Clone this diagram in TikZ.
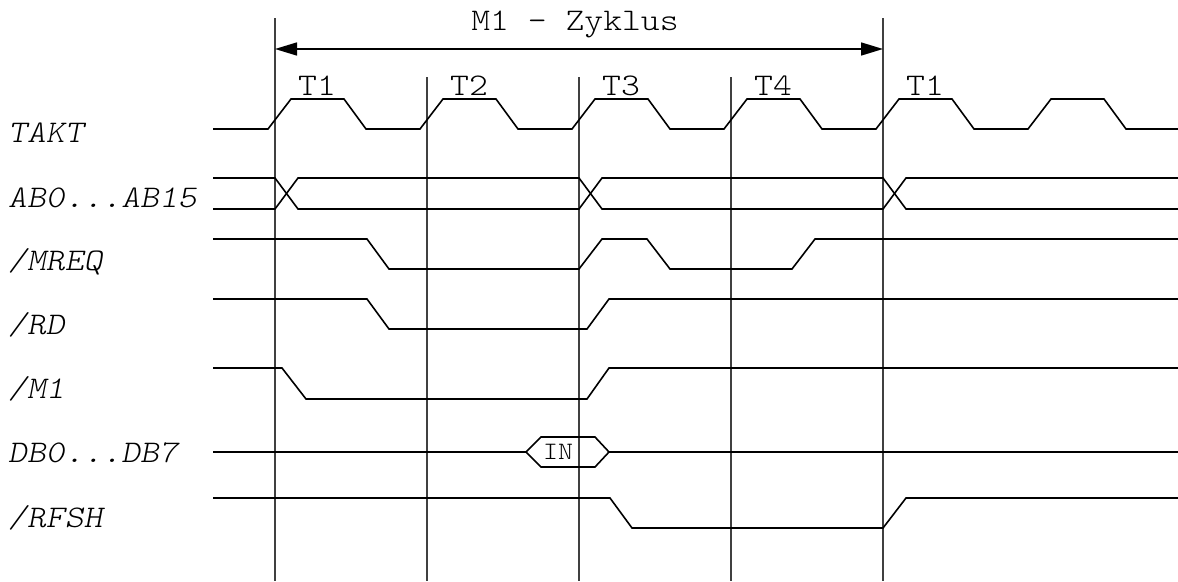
\documentclass[tikz,border=0pt]{standalone}
\usepackage{fontspec}
\usetikzlibrary{arrows.meta}
\newfontfamily\lblfont[Extension=.otf, UprightFont=lmmonolt10-regular, ItalicFont=lmmonolt10-oblique, FakeStretch=1.14]{lmmonolt10}
\tikzset{
  sig/.style={line width=1.6pt, line join=miter, black},
  grid/.style={line width=1.2pt, black!75},
  lbl/.style={anchor=base west, inner sep=0pt, font=\lblfont\itshape\fontsize{31.5}{36}\selectfont},
  tlbl/.style={anchor=base, inner sep=0pt, font=\lblfont\fontsize{31.5}{36}\selectfont},
  inlbl/.style={inner sep=0pt, font=\lblfont\fontsize{25}{28}\selectfont},
  dim/.style={line width=1.6pt, {Triangle[length=22pt,width=13pt]}-{Triangle[length=22pt,width=13pt]}}
}
\begin{document}
\begin{tikzpicture}[x=1pt,y=-1pt]
\useasboundingbox (0,0) rectangle (1178,581);
% vertical time lines
\coordinate (va) at (275,18);
\coordinate (vb) at (883,18);
\draw[grid] (va) -- (275,581);
\draw[grid] (vb) -- (883,581);
\foreach \x in {427,579,731} \draw[grid] (\x,77) -- (\x,581);
% cycle arrow
\coordinate (aa) at (275,49);
\coordinate (ab) at (883,49);
\draw[dim] (aa) -- (ab);
\node[tlbl] (cyc) at (575,30) {M1 - Zyklus};
% T labels
\node[tlbl] (t1) at (317,95) {T1};
\node[tlbl] (t2) at (469,95) {T2};
\node[tlbl] (t3) at (621,95) {T3};
\node[tlbl] (t4) at (773,95) {T4};
\node[tlbl] (t5) at (925,95) {T1};
% signal labels
\node[lbl] (lt) at (8,142) {TAKT};
\node[lbl] (la) at (8,207) {AB0...AB15};
\node[lbl] (lm) at (8,270) {/MREQ};
\node[lbl] (lr) at (8,334) {/RD};
\node[lbl] (l1) at (8,398) {/M1};
\node[lbl] (ld) at (8,462) {DB0...DB7};
\node[lbl] (lf) at (8,527) {/RFSH};
% TAKT
\draw[sig] (213,129) foreach \k in {0,...,5} {
  -- ({275+152*\k-7},129) -- ({275+152*\k+16},99) -- ({275+152*\k+69},99) -- ({275+152*\k+91},129) } -- (1178,129);
% address bus
\draw[sig] (213,178) -- (275,178) -- (298,209) -- (579,209) -- (602,178) -- (883,178) -- (906,209) -- (1178,209);
\draw[sig] (213,209) -- (275,209) -- (298,178) -- (579,178) -- (602,209) -- (883,209) -- (906,178) -- (1178,178);
% MREQ
\draw[sig] (213,239) -- (367,239) -- (389,269) -- (579,269) -- (602,239) -- (647,239) -- (670,269) -- (792,269) -- (815,239) -- (1178,239);
% RD
\draw[sig] (213,299) -- (367,299) -- (389,329) -- (587,329) -- (609,299) -- (1178,299);
% M1
\draw[sig] (213,368) -- (282,368) -- (306,399) -- (587,399) -- (609,368) -- (1178,368);
% data bus
\draw[sig] (213,452) -- (526,452);
\draw[sig] (526,452) -- (541,437) -- (595,437) -- (609,452) -- (595,467) -- (541,467) -- cycle;
\draw[sig] (609,452) -- (1178,452);
\node[inlbl] (in) at (558,452) {IN};
% RFSH
\draw[sig] (213,498) -- (610,498) -- (632,528) -- (883,528) -- (906,498) -- (1178,498);
\end{tikzpicture}
\end{document}
